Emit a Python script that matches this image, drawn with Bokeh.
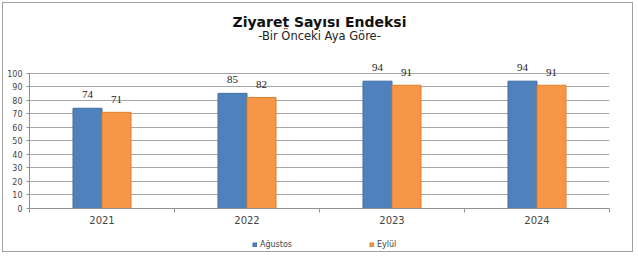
from bokeh.plotting import figure
from bokeh.layouts import column
from bokeh.models import (ColumnDataSource, FixedTicker, Range1d, Title, LabelSet,
                          Legend, LegendItem)
from bokeh.transform import dodge
from bokeh.embed import file_html
from bokeh.resources import INLINE

years = ["2021", "2022", "2023", "2024"]
agustos = [74, 85, 94, 94]
eylul = [71, 82, 91, 91]
series_names = ["Ağustos", "Eylül"]
y_ticks = [0, 10, 20, 30, 40, 50, 60, 70, 80, 90, 100]
colors = ["#4F81BD", "#F79646"]
edges = ["#3F6EA6", "#D9822F"]

xpos = [i + 0.5 for i in range(len(years))]
src = ColumnDataSource(dict(x=xpos, a=agustos, e=eylul,
                            at=[str(v) for v in agustos], et=[str(v) for v in eylul]))

FONT = "DejaVu Sans"

p = figure(frame_width=580, frame_height=149, output_backend="svg", toolbar_location=None,
           x_range=Range1d(0, len(years)), y_range=Range1d(0, 110),
           min_border_left=26, min_border_right=20, min_border_top=56,
           min_border_bottom=25)
p.outline_line_color = None

b1 = p.vbar(x=dodge("x", -0.1, range=p.x_range), top="a", width=0.2, source=src,
            fill_color=colors[0], line_color=edges[0], line_width=1)
b2 = p.vbar(x=dodge("x", 0.1, range=p.x_range), top="e", width=0.2, source=src,
            fill_color=colors[1], line_color=edges[1], line_width=1)

p.add_layout(LabelSet(x=dodge("x", -0.1, range=p.x_range), y="a", text="at", source=src,
                      text_align="center", text_baseline="bottom", y_offset=10,
                      text_font=FONT, text_font_size="11px", text_color="#222222"))
p.add_layout(LabelSet(x=dodge("x", 0.1, range=p.x_range), y="e", text="et", source=src,
                      text_align="center", text_baseline="bottom", y_offset=9,
                      text_font=FONT, text_font_size="11px", text_color="#222222"))

p.yaxis.ticker = FixedTicker(ticks=y_ticks)
p.yaxis.bounds = (y_ticks[0], y_ticks[-1])
p.yaxis.minor_tick_line_color = None
p.yaxis.major_tick_in = 0
p.yaxis.major_tick_out = 3
p.yaxis.axis_line_color = "#909090"
p.yaxis.major_tick_line_color = "#909090"
p.yaxis.major_label_text_font = FONT
p.yaxis.major_label_text_font_size = "8px"
p.yaxis.major_label_standoff = 4

p.xaxis.ticker = FixedTicker(ticks=xpos, minor_ticks=list(range(len(years) + 1)))
p.xaxis.major_label_overrides = {x: y for x, y in zip(xpos, years)}
p.xaxis.major_tick_line_color = None
p.xaxis.major_tick_out = 0
p.xaxis.major_tick_in = 0
p.xaxis.minor_tick_line_color = "#909090"
p.xaxis.minor_tick_in = 0
p.xaxis.minor_tick_out = 4
p.xaxis.axis_line_color = "#909090"
p.xaxis.major_label_text_font = FONT
p.xaxis.major_label_text_font_size = "10px"
p.xaxis.major_label_standoff = 3

p.xgrid.grid_line_color = None
p.ygrid.grid_line_color = "#a6a6a6"
p.ygrid.ticker = FixedTicker(ticks=y_ticks)

# spacer, subtitle, title (stacked outward from the frame)
p.add_layout(Title(text=" ", text_font_size="10px", standoff=3), "above")
p.add_layout(Title(text="-Bir Önceki Aya Göre-", align="center", text_font=FONT,
                   text_font_size="11.5px", text_font_style="normal",
                   text_color="#222222", standoff=-2, vertical_align="top"), "above")
p.add_layout(Title(text="Ziyaret Sayısı Endeksi", align="center", text_font=FONT,
                   text_font_size="14px", text_font_style="bold",
                   text_color="#111111", standoff=0), "above")

# legend strip below the chart (its bars lie outside its visible range)
lf = figure(width=629, height=18, output_backend="svg", toolbar_location=None,
            x_range=Range1d(0, 1), y_range=Range1d(1000, 1001),
            x_axis_location=None, y_axis_location=None,
            min_border_left=0, min_border_right=0, min_border_top=0, min_border_bottom=0)
lf.outline_line_color = None
lf.xgrid.visible = False
lf.ygrid.visible = False
l1 = lf.vbar(x="x", top="a", width=0.1, source=src,
             fill_color=colors[0], line_color=edges[0])
l2 = lf.vbar(x="x", top="e", width=0.1, source=src,
             fill_color=colors[1], line_color=edges[1])
legend = Legend(items=[LegendItem(label=series_names[0], renderers=[l1]),
                       LegendItem(label=series_names[1], renderers=[l2])],
                orientation="horizontal", location=(223, 2),
                label_text_font=FONT, label_text_font_size="8px",
                glyph_width=5, glyph_height=5, label_standoff=3,
                spacing=77, border_line_color=None, padding=1, margin=0,
                label_height=9, background_fill_alpha=0)
lf.add_layout(legend, "center")

layout = column(p, lf, spacing=0)
layout.styles = {"margin-left": "2px", "margin-top": "2px", "border": "1px solid #a0a0a0"}

open("out.html", "w").write(file_html(layout, INLINE))
